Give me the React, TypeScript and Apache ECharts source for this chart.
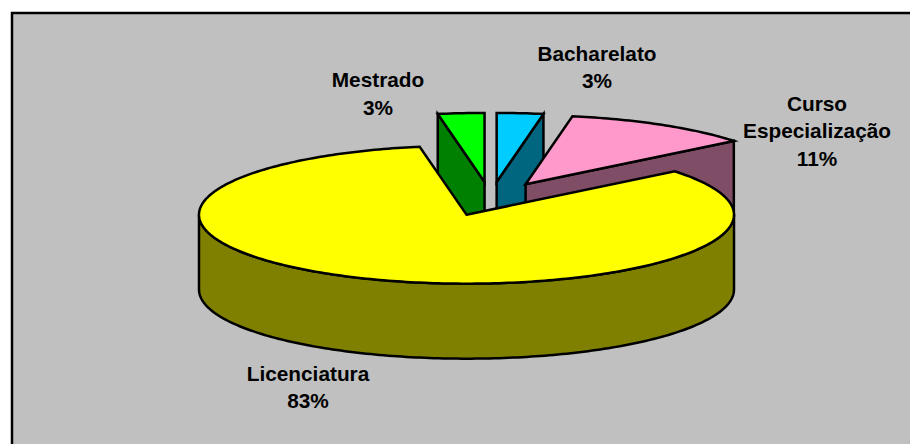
import React, { useEffect, useRef } from "react";
import * as echarts from "echarts";

// Data, in the pie's own clockwise order from twelve o'clock
const categories = ["Bacharelato", "Curso\nEspecialização", "Licenciatura", "Mestrado"];
const shares = [2.8, 11.4, 83, 2.8];
const topColors = ["#00CCFF", "#FF99CC", "#FFFF00", "#00FF00"];
const sideColors = ["#006680", "#804D66", "#808000", "#008000"];
const drawOrder = [1, 2, 3, 0];
const labelCentres = [
  [597, 39.5],
  [817, 89.5],
  [308, 359.5],
  [378, 66],
];

const W = 910;
const H = 444;
const CX = 490.6;
const CY = 198.8;
const RX = 267.5;
const RY = 69;
const DEPTH = 75;
const EXPLODE_X = 0.257;
const EXPLODE_Y = 0.2455;
const START = 90;
const rad = (d: number) => (d * Math.PI) / 180;

function sweep(index: number) {
  const total = shares.reduce((a, b) => a + b, 0);
  const before = shares.slice(0, index).reduce((a, b) => a + b, 0);
  const a0 = START - (before / total) * 360;
  const a1 = a0 - (shares[index] / total) * 360;
  return [a0, a1];
}

function renderSlice(params: any) {
  const i = params.dataIndex;
  const [a0, a1] = sweep(i);
  const mid = (a0 + a1) / 2;
  const cx = CX + EXPLODE_X * RX * Math.cos(rad(mid));
  const cy = CY - EXPLODE_Y * RY * Math.sin(rad(mid));
  const pt = (a: number, dz = 0) => [cx + RX * Math.cos(rad(a)), cy - RY * Math.sin(rad(a)) + dz];
  const arc = (from: number, to: number, dz = 0) => {
    const n = Math.max(2, Math.ceil(Math.abs(from - to)));
    const out: number[][] = [];
    for (let k = 0; k <= n; k++) out.push(pt(from + ((to - from) * k) / n, dz));
    return out;
  };
  const base = drawOrder[i] * 10;
  const stroke = { stroke: "#000", lineWidth: 2.5, lineJoin: "miter" };
  const children: any[] = [];
  const side = (points: number[][], z: number) =>
    children.push({
      type: "polygon",
      z2: base + z,
      shape: { points },
      style: { fill: sideColors[i], ...stroke },
    });

  // cut faces that turn towards the viewer
  if (Math.sin(rad(a0 + 90)) < -1e-6) {
    side([[cx, cy], pt(a0), pt(a0, DEPTH), [cx, cy + DEPTH]], 0);
  }
  if (Math.sin(rad(a1 - 90)) < -1e-6) {
    side([[cx, cy], pt(a1), pt(a1, DEPTH), [cx, cy + DEPTH]], 1);
  }
  // outer wall: the front half of the rim only
  for (const shift of [0, -360]) {
    const from = Math.min(a0, 0 + shift);
    const to = Math.max(a1, -180 + shift);
    if (from > to) {
      side([...arc(from, to), ...arc(to, from, DEPTH)], 2);
    }
  }
  children.push({
    type: "polygon",
    z2: base + 3,
    shape: { points: [[cx, cy], ...arc(a0, a1)] },
    style: { fill: topColors[i], ...stroke },
  });
  return { type: "group", children };
}

export default function App() {
  const ref = useRef<HTMLDivElement>(null);
  useEffect(() => {
    const chart = echarts.init(ref.current!, null, { renderer: "svg" });
    chart.setOption({
      animation: false,
      backgroundColor: "#FFFFFF",
      graphic: [
        { type: "rect", z: -10, shape: { x: 12, y: 13, width: W, height: H }, style: { fill: "#C0C0C0", stroke: "#000", lineWidth: 2.5 } },
        ...categories.map((name, i) => ({
          type: "text",
          z: 50,
          x: labelCentres[i][0],
          y: labelCentres[i][1],
          style: {
            text: `${name}\n${Math.round(shares[i])}%`,
            font: 'bold 20.8px "Liberation Sans", Arial, sans-serif',
            fill: "#000",
            align: "center",
            verticalAlign: "top",
            lineHeight: 27.5,
          },
        })),
      ],
      series: [
        {
          type: "custom",
          coordinateSystem: "none",
          silent: true,
          renderItem: renderSlice,
          data: shares.map((v, i) => ({ name: categories[i], value: v })),
        },
      ],
    });
    return () => chart.dispose();
  }, []);
  return <div ref={ref} style={{ position: "absolute", left: 0, top: 0, width: W, height: H }} />;
}
